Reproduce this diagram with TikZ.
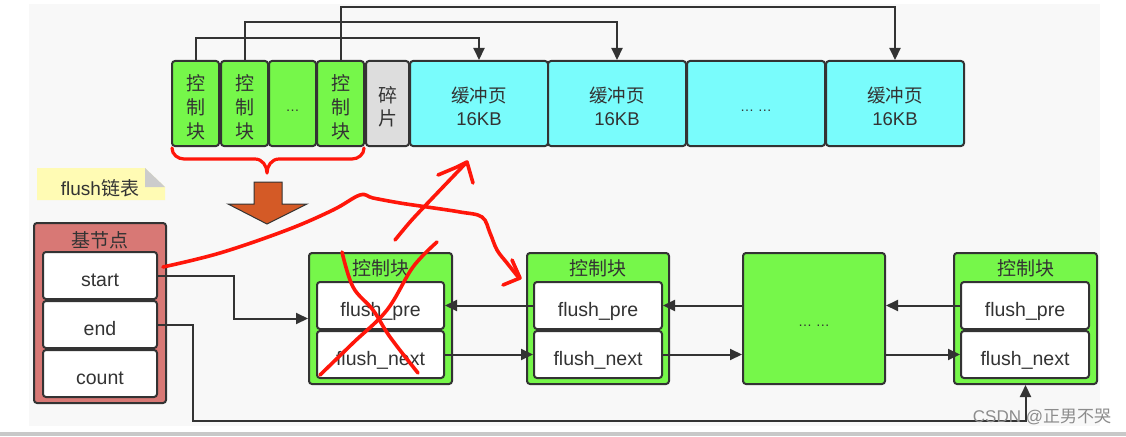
\documentclass[tikz,border=0pt]{standalone}
\usepackage{fontspec}
\setmainfont{Liberation Sans}
\newfontfamily\cjk{Noto Sans CJK SC}
\usetikzlibrary{arrows.meta,calc}
\definecolor{bgC}{HTML}{F8F8F8}
\definecolor{barC}{HTML}{C8C8C8}
\definecolor{lineC}{HTML}{333333}
\definecolor{txtC}{HTML}{333333}
\definecolor{grnC}{RGB}{118,247,74}
\definecolor{cyaC}{RGB}{121,252,252}
\definecolor{fragC}{HTML}{DDDDDD}
\definecolor{salC}{RGB}{216,120,117}
\definecolor{noteC}{RGB}{255,251,180}
\definecolor{foldC}{HTML}{CCCCCC}
\definecolor{orgC}{RGB}{212,90,38}
\definecolor{redC}{RGB}{255,22,10}
\definecolor{wmC}{HTML}{8C8C8C}
\begin{document}
\begin{tikzpicture}[x=1pt,y=-1pt,
  box/.style={draw=lineC, line width=2pt, rounded corners=3pt, inner sep=0pt, text=txtC, align=center},
  gbox/.style={box, fill=grnC},
  cbox/.style={box, fill=cyaC},
  wbox/.style={box, fill=white, font=\fontsize{19.5}{23}\selectfont, text height=22pt, text depth=0pt},
  vbox/.style={gbox, minimum width=47pt, minimum height=85pt},
  vtxt/.style={align=center, inner sep=0pt, text=txtC, font=\cjk\fontsize{19}{24}\selectfont, yshift=-4pt},
  btxt/.style={align=center, inner sep=0pt, text=txtC, font=\fontsize{18.5}{23}\selectfont, yshift=-3pt},
  ttl/.style={text=txtC, inner sep=0pt, font=\cjk\fontsize{19}{19}\selectfont},
  dts/.style={text=txtC, inner sep=0pt, font=\fontsize{14}{14}\selectfont},
  link/.style={draw=lineC, line width=2pt},
  arr/.style={link, -{Triangle[length=12pt,width=11pt]}},
  redpen/.style={draw=redC, line width=3.6pt, line cap=round, line join=round}]
\useasboundingbox (0,0) rectangle (1126,436);
\fill[white] (0,0) rectangle (1126,436);
\fill[bgC] (29,4) rectangle (1100,426);
\fill[barC] (0,431.5) rectangle (1126,436);

% top row
\node[vbox, label={[vtxt]center:控\\制\\块}] (c1) at (195.5,103.5) {};
\node[vbox, label={[vtxt]center:控\\制\\块}] (c2) at (244.5,103.5) {};
\node[vbox] (cd) at (292.5,103.5) {};
\node[dts] (cdt) at (292.5,111) {…};
\node[vbox, label={[vtxt]center:控\\制\\块}] (c3) at (340.5,103.5) {};
\node[box, fill=fragC, minimum width=43pt, minimum height=85pt,
      label={[vtxt, font=\cjk\fontsize{19}{23}\selectfont, yshift=0.5pt]center:碎\\片}] (frag) at (387.5,103.5) {};
\node[cbox, minimum width=138pt, minimum height=85pt, label={[btxt]center:{\cjk 缓冲页}\\16KB}] (b1) at (479,103.5) {};
\node[cbox, minimum width=138pt, minimum height=85pt, label={[btxt]center:{\cjk 缓冲页}\\16KB}] (b2) at (617,103.5) {};
\node[cbox, minimum width=138pt, minimum height=85pt] (bd) at (756,103.5) {};
\node[dts] (bdt) at (756,111) {… …};
\node[cbox, minimum width=138pt, minimum height=85pt, label={[btxt]center:{\cjk 缓冲页}\\16KB}] (b4) at (895,103.5) {};

\draw[arr] (c1.north) -- ++(0,-22) -| (b1.north);
\draw[arr] (c2.north) -- ++(0,-38) -| (b2.north);
\draw[arr] (c3.north) -- ++(0,-53) -| (b4.north);

% brace
\draw[draw=redC, line width=3.2pt, line cap=round]
  (172,148) to[out=-90,in=180] (184,159) -- (255,159) to[out=0,in=90] (267,173)
  (364,148) to[out=-90,in=0] (352,159) -- (279,159) to[out=180,in=90] (267,173);

% orange arrow
\draw[draw=lineC, line width=1pt, fill=orgC, line join=miter]
  (254,182) -- (282,182) -- (282,204) -- (307,204) -- (267,224) -- (228,204) -- (254,204) -- cycle;

% note
\fill[noteC] (37,168) -- (145,168) -- (165,187) -- (165,200) -- (37,200) -- cycle;
\fill[foldC] (145,168) -- (165,187) -- (145,187) -- cycle;
\node[text=txtC, inner sep=0pt, font=\fontsize{19}{19}\selectfont] (note) at (100,188) {flush{\cjk 链表}};

% base node
\node[box, fill=salC, minimum width=132pt, minimum height=180pt] (base) at (100,313) {};
\node[ttl] (baset) at (100,240) {基节点};
\node[wbox, minimum width=114pt, minimum height=47pt] (start) at (100,275.5) {start};
\node[wbox, minimum width=114pt, minimum height=47pt] (end) at (100,324.5) {end};
\node[wbox, minimum width=114pt, minimum height=47pt] (count) at (100,373.5) {count};

% block A
\node[gbox, minimum width=143pt, minimum height=131pt] (Aout) at (380.5,318.5) {};
\node[ttl] (At) at (380.5,268.5) {控制块};
\node[wbox, minimum width=127pt, minimum height=47pt] (Apre) at (380.5,305.5) {flush\_pre};
\node[wbox, minimum width=127pt, minimum height=47pt] (Anext) at (380.5,354.5) {flush\_next};

% block B
\node[gbox, minimum width=142pt, minimum height=131pt] (Bout) at (598,318.5) {};
\node[ttl] (Bt) at (598,268.5) {控制块};
\node[wbox, minimum width=128pt, minimum height=47pt] (Bpre) at (598,305.5) {flush\_pre};
\node[wbox, minimum width=128pt, minimum height=47pt] (Bnext) at (598,354.5) {flush\_next};

% dots block
\node[gbox, minimum width=142pt, minimum height=131pt] (D) at (814,318.5) {};
\node[dts] (Dt) at (814,326) {… …};

% block C
\node[gbox, minimum width=143pt, minimum height=131pt] (Cout) at (1025.5,318.5) {};
\node[ttl] (Ct) at (1025.5,268.5) {控制块};
\node[wbox, minimum width=128pt, minimum height=47pt] (Cpre) at (1025,305.5) {flush\_pre};
\node[wbox, minimum width=128pt, minimum height=47pt] (Cnext) at (1025,354.5) {flush\_next};

% links
\coordinate (bend) at (193,421);
\draw[arr] (start.east) -- ++(76,0) |- (Aout.west);
\draw[arr] (end.east) -| (bend) -| (Cout.south);
\draw[arr] (Bpre.west) -- (Apre.east);
\draw[arr] (Anext.east) -- (Bnext.west);
\draw[arr] (D.west |- Bpre.east) -- (Bpre.east);
\draw[arr] (Bnext.east) -- (D.west |- Bnext.east);
\draw[arr] (Cpre.west) -- (D.east |- Cpre.west);
\draw[arr] (D.east |- Cnext.west) -- (Cnext.west);

% red hand drawing
\draw[redpen] plot[smooth, tension=0.6] coordinates {(163,267) (220,253) (287,230) (333,210) (360,195) (373,198) (400,203) (427,207) (460,212) (482,217) (490,233) (497,250) (507,263) (519,278)};
\draw[redpen] (512,260) -- (520,278) -- (503,285);
\draw[redpen] plot[smooth, tension=0.6] coordinates {(395,240) (410,222) (423,208) (443,187) (466,163)};
\draw[redpen] (438,175) -- (457,167) -- (467,162) -- (473,183);
\draw[redpen] plot[smooth, tension=0.6] coordinates {(342,252) (353,287) (373,310) (390,337) (418,373)};
\draw[redpen] plot[smooth, tension=0.6] coordinates {(437,242) (413,267) (387,310) (353,343) (320,375)};

% watermark
\node[text=wmC, inner sep=0pt, font=\fontsize{17}{17}\selectfont] (wm) at (1042,417) {CSDN @{\cjk 正男不哭}};
\end{tikzpicture}
\end{document}
